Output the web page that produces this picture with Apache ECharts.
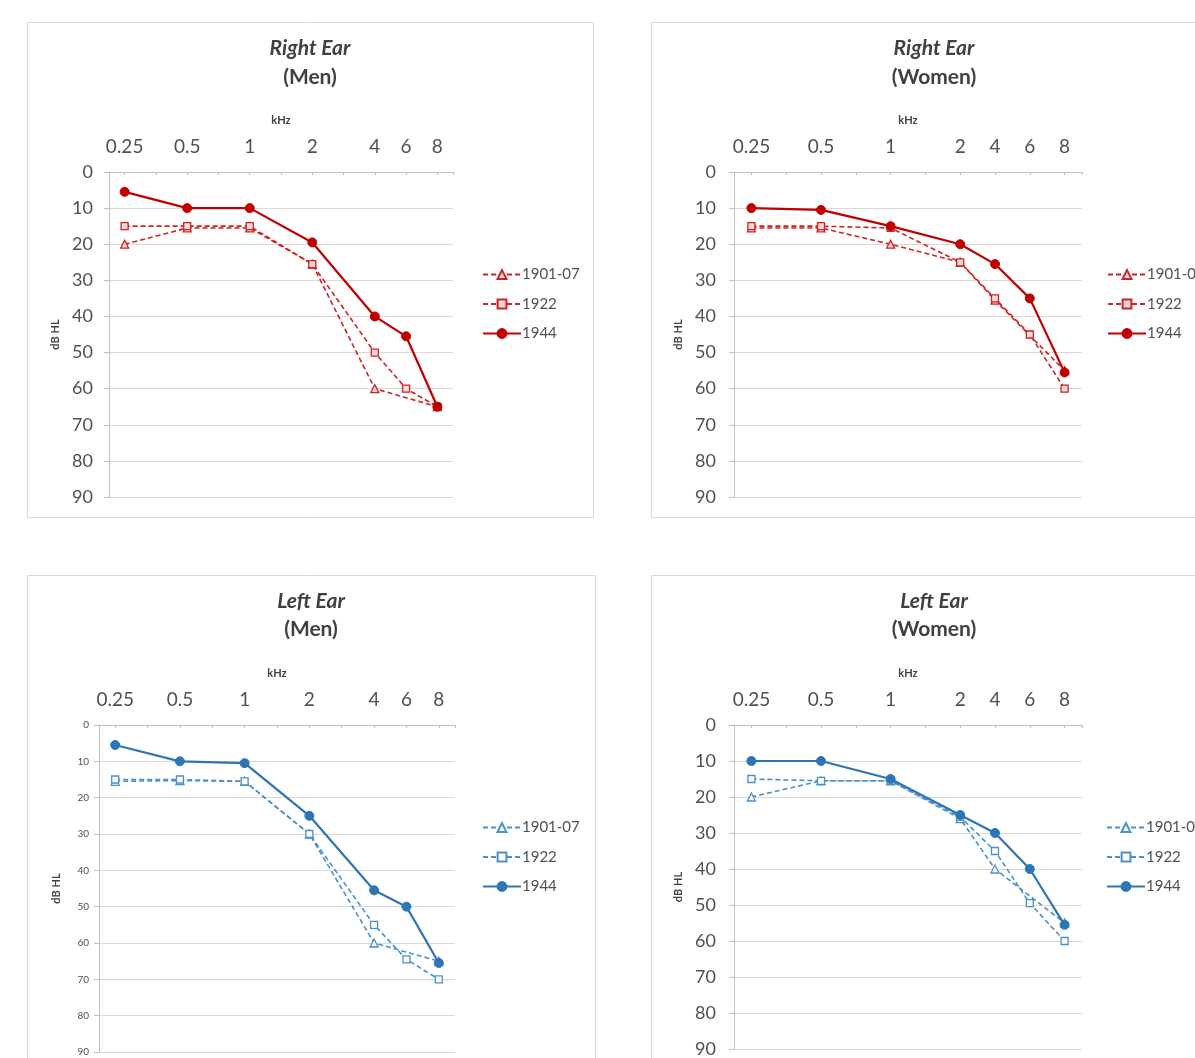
<!DOCTYPE html>
<html>
<head>
<meta charset="utf-8">
<script src="https://cdn.jsdelivr.net/npm/echarts@6/dist/echarts.min.js"></script>
<style>
  html, body { margin: 0; padding: 0; background: #ffffff; }
  #chart { width: 1195px; height: 1058px; }
</style>
</head>
<body>
<div id="chart"></div>
<script>
// ---- Data ----
const freqLabels = ['0.25', '0.5', '1', '2', '4', '6', '8'];
// slot positions of the frequencies on each (non-linear, category-like) kHz axis
const menSlots = [0.5, 2.5, 4.5, 6.5, 8.5, 9.5, 10.5];
const womenSlots = [0.5, 2.5, 4.5, 6.5, 7.5, 8.5, 9.5];
const years = ['1901-07', '1922', '1944'];
const panelTitles = ['Right Ear', 'Right Ear', 'Left Ear', 'Left Ear'];
const panelSubtitles = ['(Men)', '(Women)', '(Men)', '(Women)'];

// dB HL values (null = not measured at that frequency)
const rightMen1901 = [20, 15.5, 15.5, 25.5, 60, null, 65];
const rightMen1922 = [15, 15, 15, 25.5, 50, 60, 65];
const rightMen1944 = [5.5, 10, 10, 19.5, 40, 45.5, 65];

const rightWomen1901 = [15.5, 15.5, 20, 25, 35.5, null, 55];
const rightWomen1922 = [15, 15, 15.5, 25, 35, 45, 60];
const rightWomen1944 = [10, 10.5, 15, 20, 25.5, 35, 55.5];

const leftMen1901 = [15.5, 15.3, 15.5, 30, 60, null, 65];
const leftMen1922 = [15, 15, 15.5, 30, 55, 64.5, 70];
const leftMen1944 = [5.5, 10, 10.5, 25, 45.5, 50, 65.5];

const leftWomen1901 = [20, 15.5, 15.5, 26, 40, null, 55];
const leftWomen1922 = [15, 15.5, 15.5, 25.5, 35, 49.5, 60];
const leftWomen1944 = [10, 10, 15, 25, 30, 40, 55.5];

// ---- Layout / style ----
const RED = '#C00000', RED_L = '#D02222', RED_FILL = '#F9DADA';
const BLUE = '#2E75B6', BLUE_L = '#4A8FD0', BLUE_FILL = '#FFFFFF';
const LABEL = '#505050';
const FONT = 'Lato, "Liberation Sans", sans-serif';

const panels = [
  { key: 'RM', slots: menSlots, max: 11, vals: [rightMen1901, rightMen1922, rightMen1944], c: RED, cl: RED_L, fill: RED_FILL,
    grid: { left: 109, top: 172, width: 344, height: 325 }, yFont: 18, yMargin: 16, yNameGap: 48,
    title: [310, 48, 77], legend: [477, 262], box: [27.5, 22.5, 566, 495] },
  { key: 'RW', slots: womenSlots, max: 10, vals: [rightWomen1901, rightWomen1922, rightWomen1944], c: RED, cl: RED_L, fill: RED_FILL,
    grid: { left: 734, top: 172, width: 348, height: 325 }, yFont: 18, yMargin: 18, yNameGap: 50,
    title: [934, 48, 77], legend: [1102, 262], box: [651.5, 22.5, 600, 495] },
  { key: 'LM', slots: menSlots, max: 11, vals: [leftMen1901, leftMen1922, leftMen1944], c: BLUE, cl: BLUE_L, fill: BLUE_FILL,
    grid: { left: 99, top: 725, width: 356, height: 327 }, yFont: 10, yMargin: 10, yNameGap: 37,
    title: [311, 601, 629], legend: [477, 815], box: [27.5, 575.5, 568, 500] },
  { key: 'LW', slots: womenSlots, max: 10, vals: [leftWomen1901, leftWomen1922, leftWomen1944], c: BLUE, cl: BLUE_L, fill: BLUE_FILL,
    grid: { left: 734, top: 725, width: 348, height: 326 }, yFont: 18, yMargin: 18, yNameGap: 50,
    title: [934, 601, 629], legend: [1101, 815], box: [651.5, 575.5, 600, 500] }
];

const grids = [], xAxes = [], yAxes = [], series = [], legends = [], graphics = [];

panels.forEach((p, i) => {
  grids.push(Object.assign({ containLabel: false }, p.grid));
  const ticks = [];
  for (let k = 0; k < p.max; k++) ticks.push(k + 0.5);
  ticks.push(p.max);
  xAxes.push({
    gridIndex: i, type: 'value', position: 'top', min: 0, max: p.max,
    axisLine: { show: true, onZero: false, lineStyle: { color: '#bfbfbf', width: 1 } },
    axisTick: { show: true, customValues: ticks, inside: true, length: 3, lineStyle: { color: '#bfbfbf' } },
    axisLabel: {
      customValues: p.slots, margin: 25, verticalAlign: 'middle',
      formatter: v => freqLabels[p.slots.indexOf(v)],
      fontSize: 19, color: LABEL, fontFamily: FONT
    },
    splitLine: { show: false },
    name: 'kHz', nameLocation: 'middle', nameGap: 46,
    nameTextStyle: { fontSize: 11, fontWeight: 'bold', color: '#404040', fontFamily: FONT }
  });
  yAxes.push({
    gridIndex: i, type: 'value', inverse: true, min: 0, max: 90, interval: 10,
    axisLine: { show: true, lineStyle: { color: '#bfbfbf', width: 1 } },
    axisTick: { show: true, length: 5, lineStyle: { color: '#bfbfbf' } },
    axisLabel: { fontSize: p.yFont, color: LABEL, margin: p.yMargin, fontFamily: FONT },
    splitLine: { show: true, lineStyle: { color: '#d9d9d9', width: 1 } },
    name: 'dB HL', nameLocation: 'middle', nameGap: p.yNameGap,
    nameTextStyle: { fontSize: 11, fontWeight: 'bold', color: '#404040', fontFamily: FONT }
  });

  const symbols = ['triangle', 'rect', 'circle'];
  const sizes = [8, 7, 9];
  const names = [];
  years.forEach((yr, j) => {
    const name = p.key + '|' + yr;
    names.push(name);
    const solid = j === 2;
    const data = p.slots.map((x, k) => [x, p.vals[j][k]]).filter(d => d[1] !== null);
    series.push({
      name: name, type: 'line', xAxisIndex: i, yAxisIndex: i,
      data: data, symbol: symbols[j], symbolSize: sizes[j], z: solid ? 5 : 3,
      color: solid ? p.c : p.cl,
      lineStyle: solid ? { color: p.c, width: 2.2, type: 'solid' } : { color: p.cl, width: 1.6, type: [5, 3] },
      itemStyle: solid ? { color: p.c, borderColor: p.c, borderWidth: 1 } : { color: p.fill, borderColor: p.cl, borderWidth: 1.3 },
      animation: false
    });
  });
  legends.push({
    data: names, orient: 'vertical', left: p.legend[0], top: p.legend[1],
    itemWidth: 38, itemHeight: 11, itemGap: 14.5,
    formatter: n => n.split('|')[1],
    textStyle: { fontSize: 15, color: LABEL, fontFamily: FONT, padding: [0, 0, 0, -4] },
    selectedMode: false
  });

  graphics.push({ type: 'rect', silent: true, shape: { x: p.box[0], y: p.box[1], width: p.box[2], height: p.box[3] },
    style: { fill: 'none', stroke: '#d9d9d9', lineWidth: 1 } });
  graphics.push({ type: 'text', silent: true, x: p.title[0], y: p.title[1],
    style: { text: panelTitles[i], align: 'center', verticalAlign: 'middle', font: 'italic bold 21px ' + FONT, fill: '#404040' } });
  graphics.push({ type: 'text', silent: true, x: p.title[0], y: p.title[2],
    style: { text: panelSubtitles[i], align: 'center', verticalAlign: 'middle', font: 'bold 21px ' + FONT, fill: '#404040' } });
});

const chart = echarts.init(document.getElementById('chart'), null, { renderer: 'canvas' });
chart.setOption({
  backgroundColor: '#ffffff',
  animation: false,
  grid: grids,
  xAxis: xAxes,
  yAxis: yAxes,
  legend: legends,
  series: series,
  graphic: graphics
});
</script>
</body>
</html>
